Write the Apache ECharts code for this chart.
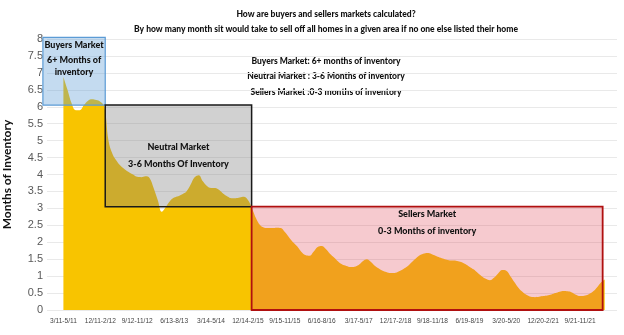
<!DOCTYPE html>
<html>
<head>
<meta charset="utf-8">
<script src="https://cdn.jsdelivr.net/npm/echarts@6/dist/echarts.min.js"></script>
<style>
  html, body { margin: 0; padding: 0; background: #ffffff; }
  #chart { width: 624px; height: 335px; }
</style>
</head>
<body>
<div id="chart"></div>
<script>
// Months of inventory, one value per rolling 3-month window starting 3/11-5/11
const inventoryMonths = [
  6.88, 6.5, 6.1, 5.9, 5.9, 6.05, 6.18, 6.22, 6.2, 6.15,
  6.0, 5.0, 4.6, 4.4, 4.25, 4.15, 4.07, 4.0, 3.93, 3.92,
  3.95, 3.9, 3.6, 3.25, 2.9, 3.05, 3.22, 3.32, 3.36, 3.42,
  3.5, 3.7, 3.92, 3.98, 3.8, 3.66, 3.6, 3.6, 3.54, 3.43,
  3.35, 3.3, 3.3, 3.32, 3.34, 3.25, 3.0, 2.7, 2.5, 2.43,
  2.42, 2.42, 2.43, 2.42, 2.3, 2.15, 2.0, 1.88, 1.72, 1.62,
  1.6, 1.72, 1.86, 1.89, 1.8, 1.66, 1.55, 1.43, 1.34, 1.3,
  1.27, 1.28, 1.33, 1.44, 1.5, 1.42, 1.3, 1.22, 1.15, 1.11,
  1.09, 1.1, 1.15, 1.22, 1.3, 1.42, 1.53, 1.62, 1.67, 1.68,
  1.64, 1.59, 1.54, 1.5, 1.47, 1.46, 1.45, 1.42, 1.36, 1.28,
  1.2, 1.1, 1.0, 0.92, 0.88, 0.95, 1.08, 1.18, 1.16, 1.0,
  0.82, 0.65, 0.53, 0.44, 0.39, 0.38, 0.39, 0.41, 0.43, 0.46,
  0.5, 0.54, 0.56, 0.55, 0.52, 0.45, 0.41, 0.42, 0.46, 0.53,
  0.65, 0.8, 0.9
];

// Period labels shown on the x axis, one every 9 months
const tickLabels = [
  '3/11-5/11', '12/11-2/12', '9/12-11/12', '6/13-8/13', '3/14-5/14',
  '12/14-2/15', '9/15-11/15', '6/16-8/16', '3/17-5/17', '12/17-2/18',
  '9/18-11/18', '6/19-8/19', '3/20-5/20', '12/20-2/21', '9/21-11/21'
];
const tickStep = 9;

// Market bands: [start period, end period, low months, high months]
const marketBands = [
  [-5, 10.2, 6.05, 8.05],
  [10.2, 45.9, 3.05, 6.05],
  [45.9, 131.5, 0, 3.05]
];
const bandTitles = ['Buyers Market', 'Neutral Market', 'Sellers Market'];
const bandNotes = [['6+ Months of', 'inventory'], ['3-6 Months Of Inventory'], ['0-3 Months of inventory']];

const titleLines = [
  'How are buyers and sellers markets calculated?',
  'By how many month sit would take to sell off all homes in a given area if no one else listed their home'
];
const legendLines = [
  'Buyers Market: 6+ months of inventory',
  'Neutral Market : 3-6 Months of inventory',
  'Sellers Market :0-3 months of inventory'
];

const bandLook = [
  { fill: 'rgba(91,155,213,0.36)', stroke: '#5B9BD5', width: 1.2, pos: 'insideTop' },
  { fill: 'rgba(128,128,128,0.36)', stroke: '#1a1a1a', width: 1.5, pos: 'inside' },
  { fill: 'rgba(225,80,95,0.30)', stroke: '#B01010', width: 1.8, pos: 'insideTop' }
];

const FONT = 'Lato, "Open Sans", sans-serif';
const HEAVY = 900;
const AXIS_FONT = '"Liberation Sans", Arial, sans-serif';
const chart = echarts.init(document.getElementById('chart'), null, { renderer: 'canvas' });

const graphicTexts = [];
titleLines.forEach((t, i) => {
  graphicTexts.push({
    type: 'text', x: 326, y: 14 + i * 15,
    style: { text: t, fontFamily: FONT, fontWeight: HEAVY, fontSize: 8.5, fill: '#111',
             align: 'center', verticalAlign: 'middle' }
  });
});
legendLines.forEach((t, i) => {
  graphicTexts.push({
    type: 'text', x: 326, y: 61 + i * 15.5,
    style: { text: t, fontFamily: FONT, fontWeight: HEAVY, fontSize: 8.5, fill: '#111',
             align: 'center', verticalAlign: 'middle' }
  });
});

chart.setOption({
  animation: false,
  backgroundColor: '#ffffff',
  grid: { left: 47, right: 7, top: 39, bottom: 25, containLabel: false, outerBoundsMode: 'none' },
  xAxis: {
    type: 'value',
    min: -4,
    max: 135,
    splitLine: { show: false },
    axisLine: { show: false },
    axisTick: { show: false },
    axisLabel: {
      customValues: tickLabels.map((_, k) => k * tickStep),
      formatter: (v) => tickLabels[Math.round(v / tickStep)] || '',
      hideOverlap: false,
      showMinLabel: true,
      showMaxLabel: true,
      fontSize: 6.6,
      color: '#444',
      fontFamily: AXIS_FONT,
      margin: 8
    }
  },
  yAxis: {
    type: 'value',
    min: 0,
    max: 8,
    interval: 0.5,
    name: 'Months of Inventory',
    nameLocation: 'middle',
    nameGap: 34,
    nameTextStyle: { fontFamily: FONT, fontWeight: 'bold', fontSize: 12, color: '#111' },
    axisLine: { show: false },
    axisTick: { show: false },
    splitLine: { lineStyle: { color: '#e9e9e9', width: 1 } },
    axisLabel: { fontSize: 11, color: '#595959', margin: 4, fontFamily: AXIS_FONT }
  },
  graphic: graphicTexts,
  series: [
    {
      type: 'line',
      data: inventoryMonths.map((v, i) => [i, v]),
      smooth: 0.4,
      showSymbol: false,
      lineStyle: { width: 0 },
      areaStyle: { color: '#F8C400', opacity: 1 },
      z: 2
    },
    {
      type: 'custom',
      data: marketBands,
      encode: { x: [0, 1], y: [2, 3] },
      clip: false,
      z: 5,
      renderItem: (params, api) => {
        const i = params.dataIndex;
        const p0 = api.coord([api.value(0), api.value(3)]);
        const p1 = api.coord([api.value(1), api.value(2)]);
        const look = bandLook[i];
        const notes = bandNotes[i];
        const richNote = i === 0 ? 'n' : 'm';
        const text = '{t|' + bandTitles[i] + '}\n' + notes.map(n => '{' + richNote + '|' + n + '}').join('\n');
        return {
          type: 'rect',
          shape: { x: p0[0], y: p0[1], width: p1[0] - p0[0], height: p1[1] - p0[1] },
          style: { fill: look.fill, stroke: look.stroke, lineWidth: look.width },
          textContent: {
            style: {
              text: text,
              align: 'center',
              rich: {
                t: { fontFamily: FONT, fontWeight: HEAVY, fontSize: 9, fill: '#111', lineHeight: 17 },
                m: { fontFamily: FONT, fontWeight: HEAVY, fontSize: 9, fill: '#111', lineHeight: 17 },
                n: { fontFamily: FONT, fontWeight: HEAVY, fontSize: 9, fill: '#111', lineHeight: 12 }
              }
            }
          },
          textConfig: { position: look.pos, distance: 0 }
        };
      }
    }
  ]
});
</script>
</body>
</html>
